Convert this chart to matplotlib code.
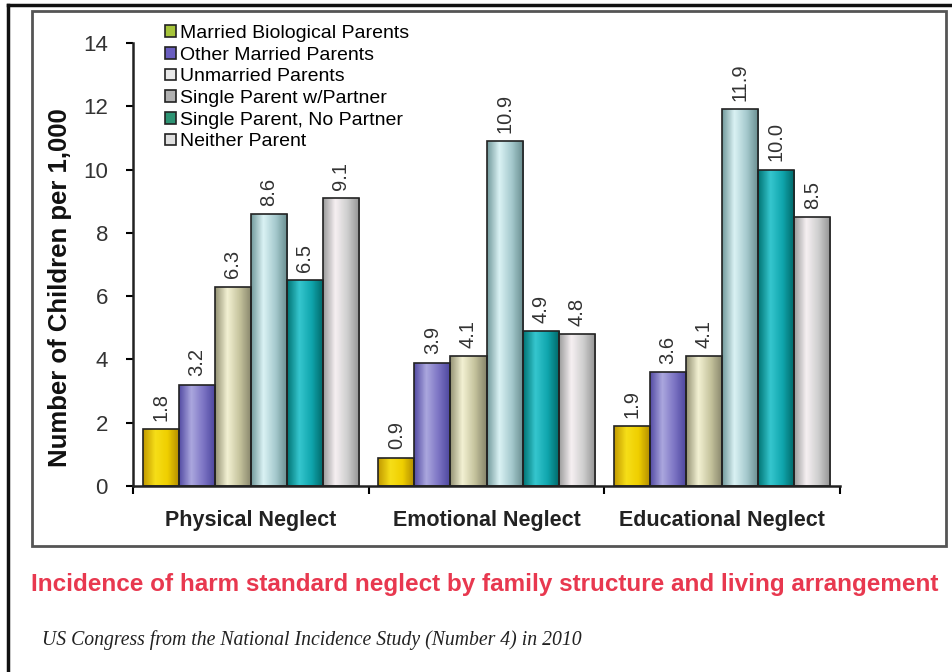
import numpy as np
import matplotlib
matplotlib.use("Agg")
import matplotlib.pyplot as plt
from matplotlib.colors import LinearSegmentedColormap
from matplotlib.patches import Patch, Rectangle
from matplotlib.lines import Line2D

plt.rcParams["font.family"] = ["Liberation Sans", "DejaVu Sans"]

categories = ["Physical Neglect", "Emotional Neglect", "Educational Neglect"]
series = [
    "Married Biological Parents",
    "Other Married Parents",
    "Unmarried Parents",
    "Single Parent w/Partner",
    "Single Parent, No Partner",
    "Neither Parent",
]
married_bio = [1.8, 0.9, 1.9]
other_married = [3.2, 3.9, 3.6]
unmarried = [6.3, 4.1, 4.1]
single_partner = [8.6, 10.9, 11.9]
single_no_partner = [6.5, 4.9, 10.0]
neither = [9.1, 4.8, 8.5]
values = [married_bio, other_married, unmarried, single_partner, single_no_partner, neither]

# horizontal gradient stops for each series (left -> right)
gradients = [
    ["#C29A00", "#F6DE18", "#EFCF00", "#B08A00"],
    ["#544CA4", "#ABA7DE", "#7C74C4", "#4A449C"],
    ["#949274", "#F3F1D3", "#C6C49E", "#86846A"],
    ["#729A9C", "#DAF2F4", "#A6CACE", "#678C8E"],
    ["#007474", "#36C6CE", "#10A6AE", "#006666"],
    ["#9C9C9C", "#F6F0F2", "#CECECE", "#929292"],
]
legend_colors = ["#A6C43A", "#6A5EC0", "#E8E8E8", "#B0B0B0", "#2E9474", "#E0E0E0"]

title = "Incidence of harm standard neglect by family structure and living arrangement"
source = "US Congress from the National Incidence Study (Number 4) in 2010"

W, H = 952, 672
fig = plt.figure(figsize=(W / 100, H / 100), dpi=100)
ax = fig.add_axes([133 / W, 1 - 486 / H, (840 - 133) / W, (486 - 43) / H])

x = np.arange(len(categories))
bw = 0.153
n = len(series)
for i, (vals, stops) in enumerate(zip(values, gradients)):
    offs = (i - (n - 1) / 2) * bw
    bars = ax.bar(x + offs, vals, bw, facecolor="none", edgecolor="#222222",
                  linewidth=1.2, zorder=3)
    cmap = LinearSegmentedColormap.from_list(f"g{i}", stops)
    for b, v in zip(bars, vals):
        x0, w, h = b.get_x(), b.get_width(), b.get_height()
        img = ax.imshow(np.linspace(0, 1, 64)[None, :], cmap=cmap, aspect="auto",
                        extent=[x0, x0 + w, 0, h], zorder=2, interpolation="bilinear")
        img.set_clip_path(b)
        ax.annotate(f"{v:.1f}", (b.get_x() + w / 2, h), xytext=(0, 6),
                    textcoords="offset points", rotation=90, ha="center", va="bottom",
                    fontsize=14.5, color="#333333")

ax.set_xlim(-0.5, 2.5)
ax.set_ylim(0, 14)
ax.set_yticks(range(0, 15, 2))
ax.tick_params(axis="y", labelsize=16, labelcolor="#333333", length=5, width=1.5, pad=13)
ax.set_xticks([-0.5, 0.5, 1.5, 2.5])
ax.set_xticklabels([])
ax.tick_params(axis="x", which="major", length=6, width=1.5)
ax.set_xticks(x, minor=True)
ax.set_xticklabels(categories, minor=True, fontsize=15.5, fontweight="bold", color="#222222")
ax.tick_params(axis="x", which="minor", length=0, pad=17)
for s in ["top", "right"]:
    ax.spines[s].set_visible(False)
for s in ["left", "bottom"]:
    ax.spines[s].set_linewidth(1.8)
    ax.spines[s].set_color("#222222")

fig.text(60 / W, 1 - 288 / H, "Number of Children per 1,000", rotation=90,
         ha="center", va="center", fontsize=18.5, fontweight="bold", color="#111111")

handles = [Patch(facecolor=c, edgecolor="#222222", linewidth=1.2) for c in legend_colors]
ax.legend(handles, series, loc="upper left", bbox_to_anchor=(165 / W, 1 - 25 / H),
          bbox_transform=fig.transFigure, frameon=False, fontsize=14,
          handlelength=0.55, handleheight=0.55, handletextpad=0.2, labelspacing=0.24,
          borderpad=0, borderaxespad=0)

# frames
fig.add_artist(Rectangle((32 / W, 1 - 546 / H), (946 - 32) / W, (546 - 11) / H,
                         transform=fig.transFigure, fill=False, edgecolor="#555555", linewidth=2))
fig.add_artist(Line2D([8 / W, 1], [1 - 5 / H, 1 - 5 / H], transform=fig.transFigure,
                      color="#111111", linewidth=2.5))
fig.add_artist(Line2D([8 / W, 8 / W], [0, 1 - 5 / H], transform=fig.transFigure,
                      color="#111111", linewidth=2.5))

fig.text(485 / W, 1 - 585 / H, title, ha="center", va="center", fontsize=17.5,
         fontweight="bold", color="#E8384F")
fig.text(42 / W, 1 - 640 / H, source, ha="left", va="center", fontsize=14.2,
         fontstyle="italic", family=["Liberation Serif", "DejaVu Serif"], color="#222222")

fig.savefig("out.png", dpi=100)
